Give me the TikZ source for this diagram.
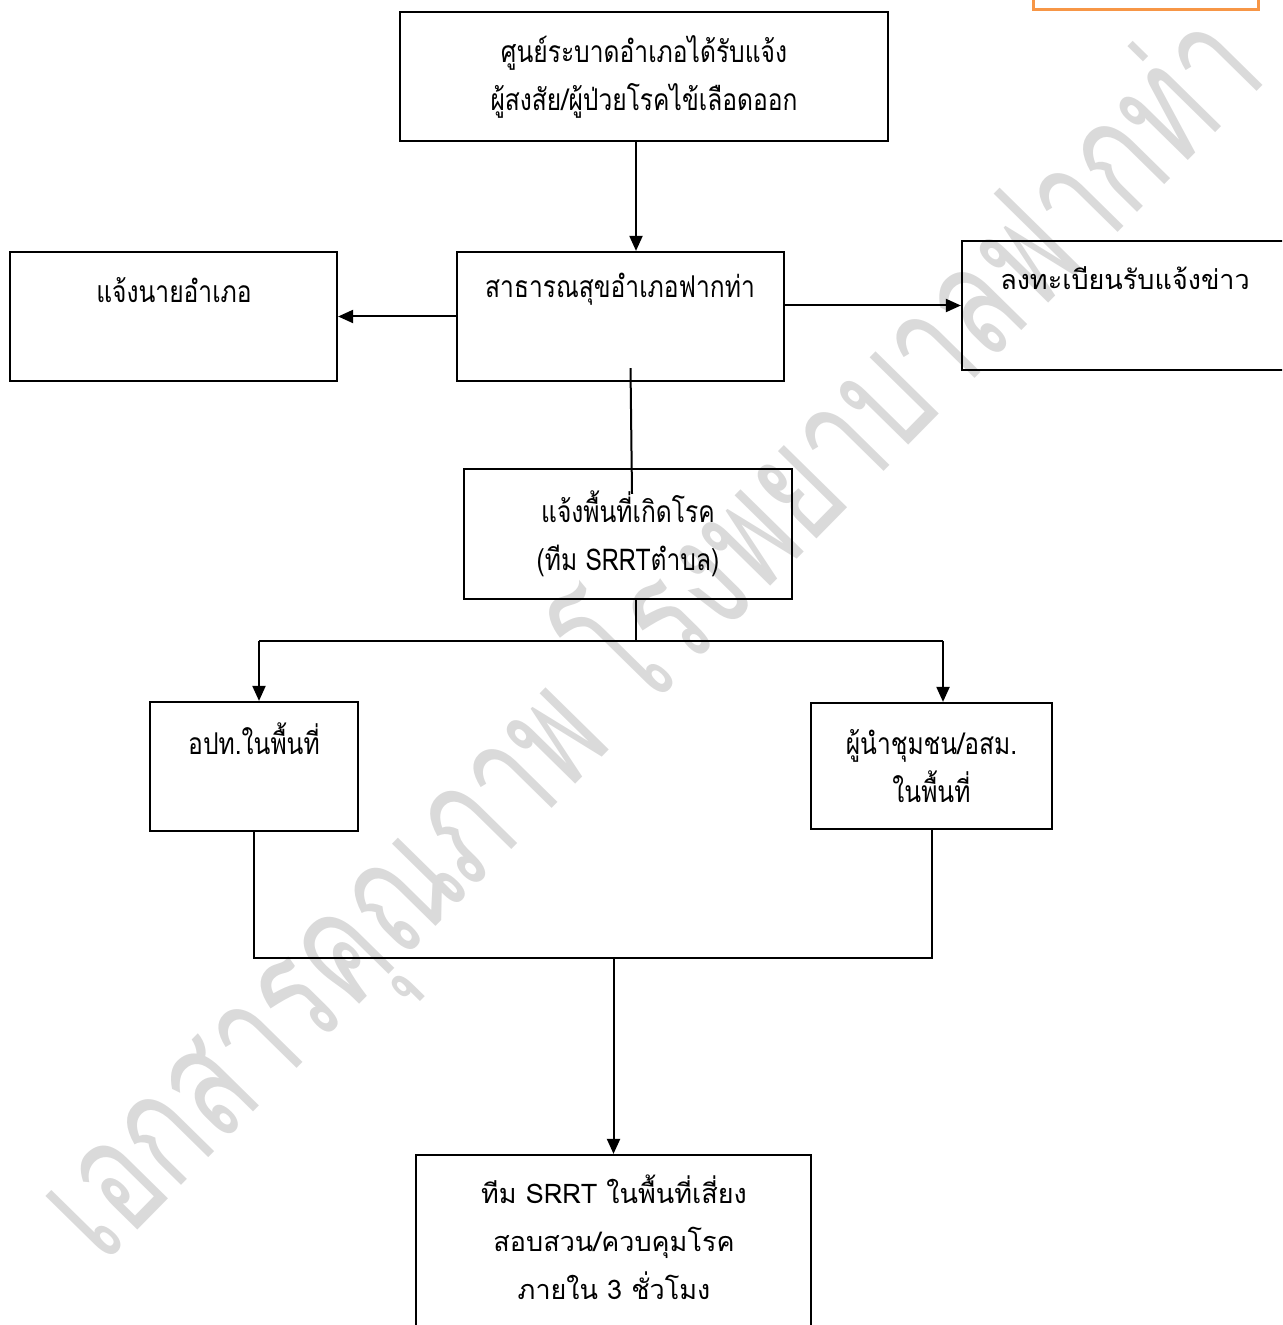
\documentclass[tikz,border=0pt]{standalone}
\usepackage{fontspec}
\usepackage{graphicx}
\newfontfamily\thaifont[Script=Thai]{Loma}
\newfontfamily\thaicond[Script=Thai,FakeStretch=0.82]{Loma}
\newfontfamily\markfont[Script=Thai,FakeStretch=0.68]{Loma}
\usepackage{tikz}
\usetikzlibrary{positioning,arrows.meta}

\definecolor{markgray}{HTML}{DADADA}
\definecolor{tagorange}{HTML}{F79646}

\tikzset{
	box/.style={draw, line width=1.1pt, inner sep=0pt, minimum height=64.5pt},
	txt/.style={align=center, inner sep=0pt, font={\thaicond\fontsize{15}{24}\selectfont}},
	txtwide/.style={align=center, inner sep=0pt, font={\thaifont\fontsize{13.5}{24}\selectfont}},
	link/.style={line width=1pt},
	arr/.style={link, -{Triangle[length=7.5pt,width=6.5pt]}},
}

\begin{document}
\begin{tikzpicture}[x=0.5pt, y=-0.5pt]
	
	% ------------------------------------------------
	% Page frame (pixel units, y grows downwards)
	\useasboundingbox (0,0) rectangle (1282,1325);
	\clip (0,0) rectangle (1282,1325);
	
	% ------------------------------------------------
	% Watermark
	\node[text=markgray, rotate=45.5, inner sep=0pt] (Mark) at (650,636)
		{\resizebox{832pt}{!}{\markfont เอกสารคุณภาพ โรงพยาบาลฟากท่า}};
	
	% ----------------
	% Orange tag, cut by the top edge
	\node[draw=tagorange, line width=1.5pt, minimum width=112.5pt, minimum height=20pt] (Tag) at (1145.5,-10) {};
	
	%%%%%%%%%%%%%%%%%%%%%%%%%%%%%%%%%%%%%%%%%
	% Boxes
	\node[box, txt, minimum width=244pt] (Notify) at (644,76.5)
		{ศูนย์ระบาดอำเภอได้รับแจ้ง\\ผู้สงสัย/ผู้ป่วยโรคไข้เลือดออก};
	
	\node[box, minimum width=163.5pt] (Office)  at (620.5,316.5) {};
	\node[box, minimum width=163.5pt] (Sheriff) at (173.5,316.5) {};
	\node[box, minimum width=164pt]   (Log)     at (1126,305.5)  {};
	
	\node[box, txt, minimum width=164pt, minimum height=65pt] (Area) at (628,534)
		{แจ้งพื้นที่เกิดโรค\\(ทีม SRRTตำบล)};
	
	\node[box, minimum width=104pt] (Local) at (254,766.5) {};
	\node[box, txt, minimum width=120.5pt, minimum height=63pt] (Leader) at (931.5,766)
		{ผู้นำชุมชน/อสม.\\ในพื้นที่};
	
	\node[box, minimum width=197.5pt, minimum height=130pt] (Team) at (613.5,1285) {};
	
	% ----------------
	% Texts held at the top of their boxes
	\node[txt]     (OfficeText)  at (620,289)  {สาธารณสุขอำเภอฟากท่า};
	\node[txt]     (SheriffText) at (174,290)  {แจ้งนายอำเภอ};
	\node[txtwide] (LogText)     at (1125,278) {ลงทะเบียนรับแจ้งข่าว};
	\node[txt]     (LocalText)   at (254,739)  {อปท.ในพื้นที่};
	\node[txtwide] (TeamText)    at (614,1237)
		{ทีม SRRT ในพื้นที่เสี่ยง\\สอบสวน/ควบคุมโรค\\ภายใน 3 ชั่วโมง};
	
	%%%%%%%%%%%%%%%%%%%%%%%%%%%%%%%%%%%%%%%%%
	% Connectors
	\path (Notify.south) +(-8,0) coordinate (NotifyOut);
	\draw[arr] (NotifyOut) -- (NotifyOut |- Office.north);
	
	\draw[arr] (Office.west) -- (Sheriff.east);
	\draw[arr] (Office.east |- Log.west) -- (Log.west);
	
	\path (Office.south) +(10,-14) coordinate (OfficeIn);
	\path (Area.north)   +(4,26)   coordinate (AreaIn);
	\draw[link] (OfficeIn) -- (AreaIn);
	
	% split to both sides
	\path (Area.south) +(8,0) coordinate (AreaOut);
	\coordinate (BusL) at (259,641);
	\coordinate (BusR) at (943,641);
	\draw[link] (AreaOut) -- (AreaOut |- BusL);
	\draw[link] (BusL) -- (BusR);
	\draw[arr] (BusL) -- (BusL |- Local.north);
	\draw[arr] (BusR) -- (BusR |- Leader.north);
	
	% join back down to the team
	\draw[link] (Local.south) -- ++(0,126) coordinate (JoinL) -| (Leader.south);
	\draw[arr] (JoinL -| Team.north) -- (Team.north);
	
\end{tikzpicture}
\end{document}
